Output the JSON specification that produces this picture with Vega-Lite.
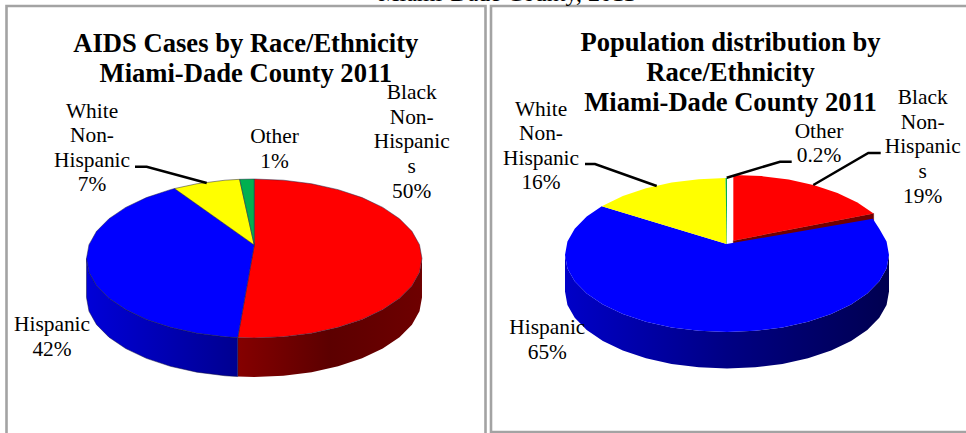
{
"$schema":"https://vega.github.io/schema/vega-lite/v6.json",
"width":966,"height":433,"padding":0,"autosize":"none","background":"white",
"config":{"view":{"stroke":null}},
"datasets":{
"leftTop":[
{"slice":"Black Non-Hispanic","k":0,"x":0,"y":0.17},{"slice":"Black Non-Hispanic","k":1,"x":0,"y":1},{"slice":"Black Non-Hispanic","k":2,"x":0.174,"y":0.985},{"slice":"Black Non-Hispanic","k":3,"x":0.342,"y":0.94},{"slice":"Black Non-Hispanic","k":4,"x":0.5,"y":0.866},{"slice":"Black Non-Hispanic","k":5,"x":0.643,"y":0.766},{"slice":"Black Non-Hispanic","k":6,"x":0.766,"y":0.643},{"slice":"Black Non-Hispanic","k":7,"x":0.866,"y":0.5},{"slice":"Black Non-Hispanic","k":8,"x":0.94,"y":0.342},{"slice":"Black Non-Hispanic","k":9,"x":0.985,"y":0.174},{"slice":"Black Non-Hispanic","k":10,"x":1,"y":0},{"slice":"Black Non-Hispanic","k":11,"x":0.985,"y":-0.174},{"slice":"Black Non-Hispanic","k":12,"x":0.94,"y":-0.342},{"slice":"Black Non-Hispanic","k":13,"x":0.866,"y":-0.5},{"slice":"Black Non-Hispanic","k":14,"x":0.766,"y":-0.643},{"slice":"Black Non-Hispanic","k":15,"x":0.643,"y":-0.766},{"slice":"Black Non-Hispanic","k":16,"x":0.5,"y":-0.866},{"slice":"Black Non-Hispanic","k":17,"x":0.342,"y":-0.94},{"slice":"Black Non-Hispanic","k":18,"x":0.174,"y":-0.985},{"slice":"Black Non-Hispanic","k":19,"x":0,"y":-1},{"slice":"Black Non-Hispanic","k":20,"x":-0.0985,"y":-0.995},{"slice":"Black Non-Hispanic","k":21,"x":0,"y":0.17},
{"slice":"Hispanic","k":0,"x":0,"y":0.17},{"slice":"Hispanic","k":1,"x":-0.0985,"y":-0.995},{"slice":"Hispanic","k":2,"x":-0.174,"y":-0.985},{"slice":"Hispanic","k":3,"x":-0.342,"y":-0.94},{"slice":"Hispanic","k":4,"x":-0.5,"y":-0.866},{"slice":"Hispanic","k":5,"x":-0.643,"y":-0.766},{"slice":"Hispanic","k":6,"x":-0.766,"y":-0.643},{"slice":"Hispanic","k":7,"x":-0.866,"y":-0.5},{"slice":"Hispanic","k":8,"x":-0.94,"y":-0.342},{"slice":"Hispanic","k":9,"x":-0.985,"y":-0.174},{"slice":"Hispanic","k":10,"x":-1,"y":0},{"slice":"Hispanic","k":11,"x":-0.985,"y":0.174},{"slice":"Hispanic","k":12,"x":-0.94,"y":0.342},{"slice":"Hispanic","k":13,"x":-0.866,"y":0.5},{"slice":"Hispanic","k":14,"x":-0.766,"y":0.643},{"slice":"Hispanic","k":15,"x":-0.643,"y":0.766},{"slice":"Hispanic","k":16,"x":-0.5,"y":0.866},{"slice":"Hispanic","k":17,"x":-0.475,"y":0.88},{"slice":"Hispanic","k":18,"x":0,"y":0.17},
{"slice":"White Non-Hispanic","k":0,"x":0,"y":0.17},{"slice":"White Non-Hispanic","k":1,"x":-0.475,"y":0.88},{"slice":"White Non-Hispanic","k":2,"x":-0.342,"y":0.94},{"slice":"White Non-Hispanic","k":3,"x":-0.174,"y":0.985},{"slice":"White Non-Hispanic","k":4,"x":-0.087,"y":0.996},{"slice":"White Non-Hispanic","k":5,"x":0,"y":0.17},
{"slice":"Other","k":0,"x":0,"y":0.17},{"slice":"Other","k":1,"x":-0.087,"y":0.996},{"slice":"Other","k":2,"x":0,"y":1},{"slice":"Other","k":3,"x":0,"y":0.17}
],
"leftWall":[
{"slice":"Black Non-Hispanic","x":1,"y":0,"yb":-0.49},{"slice":"Black Non-Hispanic","x":0.985,"y":-0.174,"yb":-0.664},{"slice":"Black Non-Hispanic","x":0.94,"y":-0.342,"yb":-0.832},{"slice":"Black Non-Hispanic","x":0.866,"y":-0.5,"yb":-0.99},{"slice":"Black Non-Hispanic","x":0.766,"y":-0.643,"yb":-1.133},{"slice":"Black Non-Hispanic","x":0.643,"y":-0.766,"yb":-1.256},{"slice":"Black Non-Hispanic","x":0.5,"y":-0.866,"yb":-1.356},{"slice":"Black Non-Hispanic","x":0.342,"y":-0.94,"yb":-1.43},{"slice":"Black Non-Hispanic","x":0.174,"y":-0.985,"yb":-1.475},{"slice":"Black Non-Hispanic","x":0,"y":-1,"yb":-1.49},{"slice":"Black Non-Hispanic","x":-0.0985,"y":-0.995,"yb":-1.485},
{"slice":"Hispanic","x":-0.0985,"y":-0.995,"yb":-1.485},{"slice":"Hispanic","x":-0.174,"y":-0.985,"yb":-1.475},{"slice":"Hispanic","x":-0.342,"y":-0.94,"yb":-1.43},{"slice":"Hispanic","x":-0.5,"y":-0.866,"yb":-1.356},{"slice":"Hispanic","x":-0.643,"y":-0.766,"yb":-1.256},{"slice":"Hispanic","x":-0.766,"y":-0.643,"yb":-1.133},{"slice":"Hispanic","x":-0.866,"y":-0.5,"yb":-0.99},{"slice":"Hispanic","x":-0.94,"y":-0.342,"yb":-0.832},{"slice":"Hispanic","x":-0.985,"y":-0.174,"yb":-0.664},{"slice":"Hispanic","x":-1,"y":0,"yb":-0.49}
],
"rightTop":[
{"slice":"Black Non-Hispanic","k":0,"x":0.039,"y":0.186},{"slice":"Black Non-Hispanic","k":1,"x":0.039,"y":1.04},{"slice":"Black Non-Hispanic","k":2,"x":0.213,"y":1.025},{"slice":"Black Non-Hispanic","k":3,"x":0.381,"y":0.98},{"slice":"Black Non-Hispanic","k":4,"x":0.539,"y":0.906},{"slice":"Black Non-Hispanic","k":5,"x":0.682,"y":0.806},{"slice":"Black Non-Hispanic","k":6,"x":0.805,"y":0.683},{"slice":"Black Non-Hispanic","k":7,"x":0.905,"y":0.54},{"slice":"Black Non-Hispanic","k":8,"x":0.039,"y":0.186},
{"slice":"Hispanic","k":0,"x":-0.002,"y":0.143},{"slice":"Hispanic","k":1,"x":0.9,"y":0.47},{"slice":"Hispanic","k":2,"x":0.94,"y":0.342},{"slice":"Hispanic","k":3,"x":0.985,"y":0.174},{"slice":"Hispanic","k":4,"x":1,"y":0},{"slice":"Hispanic","k":5,"x":0.985,"y":-0.174},{"slice":"Hispanic","k":6,"x":0.94,"y":-0.342},{"slice":"Hispanic","k":7,"x":0.866,"y":-0.5},{"slice":"Hispanic","k":8,"x":0.766,"y":-0.643},{"slice":"Hispanic","k":9,"x":0.643,"y":-0.766},{"slice":"Hispanic","k":10,"x":0.5,"y":-0.866},{"slice":"Hispanic","k":11,"x":0.342,"y":-0.94},{"slice":"Hispanic","k":12,"x":0.174,"y":-0.985},{"slice":"Hispanic","k":13,"x":0,"y":-1},{"slice":"Hispanic","k":14,"x":-0.174,"y":-0.985},{"slice":"Hispanic","k":15,"x":-0.342,"y":-0.94},{"slice":"Hispanic","k":16,"x":-0.5,"y":-0.866},{"slice":"Hispanic","k":17,"x":-0.643,"y":-0.766},{"slice":"Hispanic","k":18,"x":-0.766,"y":-0.643},{"slice":"Hispanic","k":19,"x":-0.866,"y":-0.5},{"slice":"Hispanic","k":20,"x":-0.94,"y":-0.342},{"slice":"Hispanic","k":21,"x":-0.985,"y":-0.174},{"slice":"Hispanic","k":22,"x":-1,"y":0},{"slice":"Hispanic","k":23,"x":-0.985,"y":0.174},{"slice":"Hispanic","k":24,"x":-0.94,"y":0.342},{"slice":"Hispanic","k":25,"x":-0.866,"y":0.5},{"slice":"Hispanic","k":26,"x":-0.773,"y":0.634},{"slice":"Hispanic","k":27,"x":-0.002,"y":0.143},
{"slice":"White Non-Hispanic","k":0,"x":-0.002,"y":0.143},{"slice":"White Non-Hispanic","k":1,"x":-0.773,"y":0.634},{"slice":"White Non-Hispanic","k":2,"x":-0.643,"y":0.766},{"slice":"White Non-Hispanic","k":3,"x":-0.5,"y":0.866},{"slice":"White Non-Hispanic","k":4,"x":-0.342,"y":0.94},{"slice":"White Non-Hispanic","k":5,"x":-0.174,"y":0.985},{"slice":"White Non-Hispanic","k":6,"x":-0.009,"y":1},{"slice":"White Non-Hispanic","k":7,"x":-0.002,"y":0.143},
{"slice":"Other","k":0,"x":-0.002,"y":0.143},{"slice":"Other","k":1,"x":-0.009,"y":1},{"slice":"Other","k":2,"x":0,"y":1},{"slice":"Other","k":3,"x":0,"y":0.143}
],
"rightEdge":[
{"k":0,"x":0.039,"y":0.186},{"k":1,"x":0.905,"y":0.54},{"k":2,"x":0.905,"y":0.42},{"k":3,"x":0.039,"y":0.066},{"k":4,"x":0.039,"y":0.186}
],
"rightWall":[
{"x":1,"y":0,"yb":-0.474},{"x":0.985,"y":-0.174,"yb":-0.648},{"x":0.94,"y":-0.342,"yb":-0.816},{"x":0.866,"y":-0.5,"yb":-0.974},{"x":0.766,"y":-0.643,"yb":-1.117},{"x":0.643,"y":-0.766,"yb":-1.24},{"x":0.5,"y":-0.866,"yb":-1.34},{"x":0.342,"y":-0.94,"yb":-1.414},{"x":0.174,"y":-0.985,"yb":-1.459},{"x":0,"y":-1,"yb":-1.474},{"x":-0.174,"y":-0.985,"yb":-1.459},{"x":-0.342,"y":-0.94,"yb":-1.414},{"x":-0.5,"y":-0.866,"yb":-1.34},{"x":-0.643,"y":-0.766,"yb":-1.24},{"x":-0.766,"y":-0.643,"yb":-1.117},{"x":-0.866,"y":-0.5,"yb":-0.974},{"x":-0.94,"y":-0.342,"yb":-0.816},{"x":-0.985,"y":-0.174,"yb":-0.648},{"x":-1,"y":0,"yb":-0.474}
],
"frame":[
{"id":"a","k":0,"x":6.5,"y":433},{"id":"a","k":1,"x":6.5,"y":6},{"id":"a","k":2,"x":485.5,"y":6},{"id":"a","k":3,"x":485.5,"y":433},
{"id":"b","k":0,"x":491,"y":433},{"id":"b","k":1,"x":491,"y":6},{"id":"b","k":2,"x":966,"y":6},
{"id":"c","k":0,"x":491,"y":432},{"id":"c","k":1,"x":966,"y":432}
],
"leaders":[
{"id":"a","k":0,"x":135,"y":166.7},{"id":"a","k":1,"x":146.7,"y":166.7},{"id":"a","k":2,"x":206.7,"y":183},
{"id":"b","k":0,"x":585,"y":164},{"id":"b","k":1,"x":595,"y":164},{"id":"b","k":2,"x":656.7,"y":186},
{"id":"c","k":0,"x":791.7,"y":161.7},{"id":"c","k":1,"x":780,"y":161.7},{"id":"c","k":2,"x":726.7,"y":177.7},
{"id":"d","k":0,"x":880.7,"y":153},{"id":"d","k":1,"x":868.3,"y":153},{"id":"d","k":2,"x":813.3,"y":185}
],
"titles":[
{"t":"AIDS Cases by Race/Ethnicity\nMiami-Dade County 2011","x":245.8,"y":51.7},
{"t":"Population distribution by\nRace/Ethnicity\nMiami-Dade County 2011","x":730.5,"y":51}
],
"labels":[
{"t":"White\nNon-\nHispanic\n7%","x":92,"y":117.5},
{"t":"Other\n1%","x":274.5,"y":143},
{"t":"Black\nNon-\nHispanic\ns\n50%","x":411.7,"y":99.3},
{"t":"Hispanic\n42%","x":52,"y":331},
{"t":"White\nNon-\nHispanic\n16%","x":541,"y":115.7},
{"t":"Other\n0.2%","x":819,"y":137.7},
{"t":"Black\nNon-\nHispanic\ns\n19%","x":922.7,"y":104.3},
{"t":"Hispanic\n65%","x":547.3,"y":334}
],
"cut":[{"t":"Miami-Dade County, 2011","x":635,"y":0.5}]
},
"layer":[
{
"encoding":{"x":{"field":"x","type":"quantitative","axis":null,"scale":{"domain":[0,966]}},"y":{"field":"y","type":"quantitative","axis":null,"scale":{"domain":[433,0]}}},
"layer":[
{"data":{"name":"frame"},"mark":{"type":"line","stroke":"#a3a3a3","strokeWidth":2.6,"clip":true},"encoding":{"detail":{"field":"id"},"order":{"field":"k"}}},
{"data":{"name":"cut"},"mark":{"type":"text","font":"Liberation Serif","fontSize":24,"align":"right","baseline":"alphabetic","clip":true,"color":"black"},"encoding":{"text":{"field":"t"}}}
]
},
{
"encoding":{"x":{"field":"x","type":"quantitative","axis":null,"scale":{"domain":[-1.5156,4.243]}},"y":{"field":"y","type":"quantitative","axis":null,"scale":{"domain":[-2.195,3.2516]}}},
"layer":[
{"data":{"name":"leftWall"},"transform":[{"filter":"datum.slice==='Black Non-Hispanic'"}],"mark":{"type":"area","line":false,"fill":{"gradient":"linear","x1":0,"x2":1,"y1":0,"y2":0,"stops":[{"offset":0,"color":"#850000"},{"offset":0.5,"color":"#5c0000"},{"offset":1,"color":"#6e0000"}]}},"encoding":{"y2":{"field":"yb"}}},
{"data":{"name":"leftWall"},"transform":[{"filter":"datum.slice==='Hispanic'"}],"mark":{"type":"area","stroke":"#101040","strokeWidth":0.5,"fill":{"gradient":"linear","x1":0,"x2":1,"y1":0,"y2":0,"stops":[{"offset":0,"color":"#0000d8"},{"offset":1,"color":"#000090"}]}},"encoding":{"y2":{"field":"yb"}}},
{"data":{"name":"leftTop"},"mark":{"type":"line","stroke":"#222244","strokeWidth":0.5},"encoding":{"detail":{"field":"slice"},"order":{"field":"k"},"fill":{"field":"slice","type":"nominal","legend":null,"scale":{"domain":["Black Non-Hispanic","Hispanic","White Non-Hispanic","Other"],"range":["#ff0000","#0000ff","#ffff00","#00b050"]}}}}
]
},
{
"encoding":{"x":{"field":"x","type":"quantitative","axis":null,"scale":{"domain":[-4.4877,1.4753]}},"y":{"field":"y","type":"quantitative","axis":null,"scale":{"domain":[-2.3117,3.3117]}}},
"layer":[
{"data":{"name":"rightWall"},"mark":{"type":"area","fill":{"gradient":"linear","x1":0,"x2":1,"y1":0,"y2":0,"stops":[{"offset":0,"color":"#0000c8"},{"offset":0.5,"color":"#000084"},{"offset":1,"color":"#000050"}]}},"encoding":{"y2":{"field":"yb"}}},
{"data":{"name":"rightEdge"},"mark":{"type":"line","stroke":"#700000","strokeWidth":0.5,"fill":"#700000"},"encoding":{"order":{"field":"k"}}},
{"data":{"name":"rightTop"},"mark":{"type":"line","strokeWidth":0},"encoding":{"detail":{"field":"slice"},"order":{"field":"k"},"fill":{"field":"slice","type":"nominal","legend":null,"scale":{"domain":["Black Non-Hispanic","Hispanic","White Non-Hispanic","Other"],"range":["#ff0000","#0000ff","#ffff00","#00b050"]}}}}
]
},
{
"encoding":{"x":{"field":"x","type":"quantitative","axis":null,"scale":{"domain":[0,966]}},"y":{"field":"y","type":"quantitative","axis":null,"scale":{"domain":[433,0]}}},
"layer":[
{"data":{"name":"leaders"},"mark":{"type":"line","stroke":"black","strokeWidth":2.5},"encoding":{"detail":{"field":"id"},"order":{"field":"k"}}},
{"data":{"name":"titles"},"mark":{"type":"text","font":"Liberation Serif","fontWeight":"bold","fontSize":26.6,"lineHeight":30,"lineBreak":"\n","align":"center","baseline":"alphabetic","color":"black"},"encoding":{"text":{"field":"t"}}},
{"data":{"name":"labels"},"mark":{"type":"text","font":"Liberation Serif","fontSize":21.4,"lineHeight":24.6,"lineBreak":"\n","align":"center","baseline":"alphabetic","color":"black"},"encoding":{"text":{"field":"t"}}}
]
}
],
"resolve":{"scale":{"x":"independent","y":"independent"}}
}
